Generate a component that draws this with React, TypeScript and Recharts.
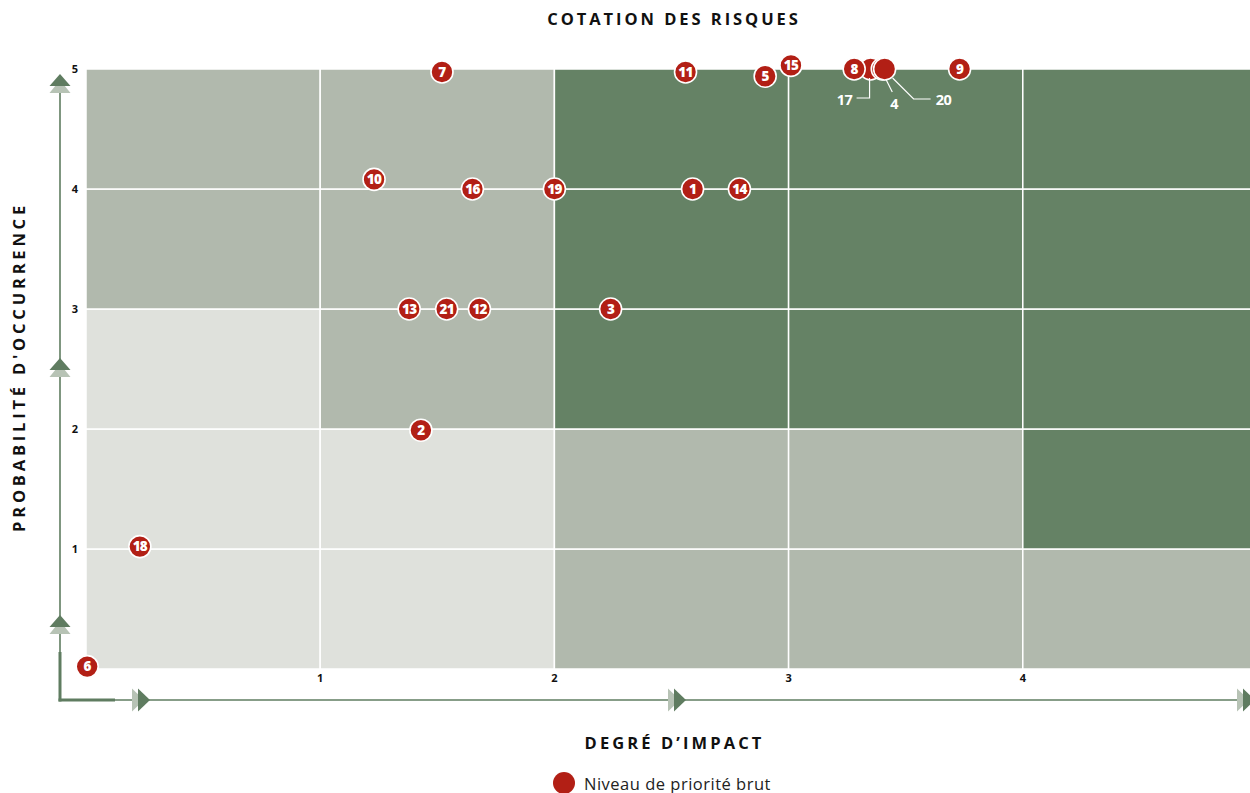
import React from 'react';
import { ScatterChart, Scatter, XAxis, YAxis, ReferenceArea } from 'recharts';

// ---------- data ----------
const impactTicks = [1, 2, 3, 4, 5];
const probabilityTicks = [1, 2, 3, 4, 5];

// zone level per cell, rows = probability band (0-1 first), columns = impact band (0-1 first)
const zoneRow0 = ['low', 'low', 'mid', 'mid', 'mid'];
const zoneRow1 = ['low', 'low', 'mid', 'mid', 'high'];
const zoneRow2 = ['low', 'mid', 'high', 'high', 'high'];
const zoneRow3 = ['mid', 'mid', 'high', 'high', 'high'];
const zoneRow4 = ['mid', 'mid', 'high', 'high', 'high'];
const zoneRows = [zoneRow0, zoneRow1, zoneRow2, zoneRow3, zoneRow4];

// risks (drawing order: 17 first so that 8 and 4/20 overlap it)
const riskIds = [17, 1, 2, 3, 4, 5, 6, 7, 8, 9, 10, 11, 12, 13, 14, 15, 16, 18, 19, 20, 21];
const riskImpact = [3.35, 2.59, 1.43, 2.24, 3.4, 2.9, 0.005, 1.52, 3.28, 3.73, 1.23, 2.56, 1.68, 1.38, 2.79, 3.01, 1.65, 0.23, 2.0, 3.41, 1.54];
const riskProbability = [5.0, 4.0, 1.99, 3.0, 5.0, 4.94, 0.02, 4.975, 5.0, 5.0, 4.08, 4.975, 3.0, 3.0, 4.0, 5.03, 4.0, 1.02, 4.0, 5.0, 3.0];
const calloutIds = [17, 4, 20];

const chartTitle = 'COTATION DES RISQUES';
const xAxisTitle = 'DEGRÉ D’IMPACT';
const yAxisTitle = "PROBABILITÉ D'OCCURRENCE";
const legendLabel = 'Niveau de priorité brut';

// ---------- styles ----------
const zoneColors: Record<string, string> = { low: '#dfe1dc', mid: '#b1b9ad', high: '#658265' };
const RED = '#b21f15';
const AXIS_GREEN = '#5f7c60';
const AXIS_LIGHT = '#b7c3b5';
const FONT = "'Open Sans', 'Noto Sans', sans-serif";

// callout geometry (relative to marker centre)
const calloutLayout: Record<number, { path: string; lx: number; ly: number }> = {
  17: { path: 'M -1 9 L -1 29 L -14 29', lx: -26, ly: 31 },
  4: { path: 'M 4 11 L 10 23', lx: 12, ly: 35 },
  20: { path: 'M 8 9 L 29 30 L 46 30', lx: 59, ly: 31 },
};

const cells = zoneRows.flatMap((row, r) =>
  row.map((zone, c) => ({ x1: c, x2: c + 1, y1: r, y2: r + 1, zone }))
);

const risks = riskIds.map((id, i) => ({
  id,
  impact: riskImpact[i],
  probability: riskProbability[i],
}));

const RiskMarker = (props: any) => {
  const { cx, cy, payload } = props;
  if (cx == null || cy == null) return null;
  const isCallout = calloutIds.includes(payload.id);
  const co = calloutLayout[payload.id];
  return (
    <g>
      <circle cx={cx} cy={cy} r={11} fill={RED} stroke="#ffffff" strokeWidth={1.6} />
      {!isCallout && (
        <text
          x={cx}
          y={cy}
          dy={4.8}
          textAnchor="middle"
          fill="#ffffff"
          fontFamily={FONT}
          fontWeight={800}
          fontSize={13.5}
          letterSpacing={-0.7}
        >
          {payload.id}
        </text>
      )}
      {isCallout && co && (
        <g>
          <path d={co.path} transform={`translate(${cx},${cy})`} fill="none" stroke="#ffffff" strokeWidth={1.2} />
          <text
            x={cx + co.lx}
            y={cy + co.ly}
            dy={5}
            textAnchor="middle"
            fill="#ffffff"
            fontFamily={FONT}
            fontWeight={700}
            fontSize={14.5}
            letterSpacing={-0.4}
          >
            {payload.id}
          </text>
        </g>
      )}
    </g>
  );
};

const XTitle = (props: any) => {
  const vb = props.viewBox || {};
  return (
    <text
      x={vb.x + vb.width / 2 + 3}
      y={vb.y + 80}
      textAnchor="middle"
      fill="#111"
      fontFamily={FONT}
      fontWeight={700}
      fontSize={16.5}
      letterSpacing={3.1}
    >
      {xAxisTitle}
    </text>
  );
};

const YTitle = () => {
  const cx = 19;
  const cy = 367;
  return (
    <text
      x={cx}
      y={cy}
      dy={5.5}
      transform={`rotate(-90, ${cx}, ${cy})`}
      textAnchor="middle"
      fill="#111"
      fontFamily={FONT}
      fontWeight={700}
      fontSize={16.5}
      letterSpacing={3.8}
    >
      {yAxisTitle}
    </text>
  );
};

const upArrow = (y: number) => (
  <g key={`u${y}`}>
    <polygon points={`60,${y + 6} 49.5,${y + 19} 70.5,${y + 19}`} fill={AXIS_LIGHT} />
    <polygon points={`60,${y} 49.5,${y + 12} 70.5,${y + 12}`} fill={AXIS_GREEN} />
  </g>
);
const rightArrow = (x: number) => (
  <g key={`r${x}`}>
    <polygon points={`${x - 6},688.5 ${x + 6},700 ${x - 6},711.5`} fill={AXIS_LIGHT} />
    <polygon points={`${x},688.5 ${x + 12},700 ${x},711.5`} fill={AXIS_GREEN} />
  </g>
);

export default function App() {
  return (
    <div
      style={{
        position: 'absolute',
        left: 0,
        top: 0,
        width: 1250,
        height: 793,
        overflow: 'hidden',
        background: '#ffffff',
      }}
    >
      <ScatterChart
        width={1300}
        height={793}
        margin={{ top: 57, right: 43, bottom: 94, left: 0 }}
      >
        {cells.map((c, i) => (
          <ReferenceArea
            key={i}
            x1={c.x1}
            x2={c.x2}
            y1={c.y1}
            y2={c.y2}
            fill={zoneColors[c.zone]}
            fillOpacity={1}
            stroke="#ffffff"
            strokeWidth={1.5}
            ifOverflow="visible"
          />
        ))}
        <XAxis
          type="number"
          dataKey="impact"
          domain={[0, 5]}
          ticks={impactTicks}
          axisLine={false}
          tickLine={false}
          tickMargin={-1}
          height={30}
          interval={0}
          tick={{ fill: '#111', fontSize: 11, fontWeight: 700, fontFamily: FONT }}
          label={<XTitle />}
        />
        <YAxis
          type="number"
          dataKey="probability"
          domain={[0, 5.1]}
          ticks={probabilityTicks}
          axisLine={false}
          tickLine={false}
          width={86}
          interval={0}
          tick={{ fill: '#111', fontSize: 11, fontWeight: 700, fontFamily: FONT }}
          label={<YTitle />}
        />
        <Scatter
          data={risks}
          isAnimationActive={false}
          shape={(p: any) => <RiskMarker {...p} />}
        />
      </ScatterChart>

      <svg
        width={1250}
        height={793}
        style={{ position: 'absolute', left: 0, top: 0, pointerEvents: 'none' }}
      >
        <text
          x={674}
          y={25}
          textAnchor="middle"
          fill="#111"
          fontFamily={FONT}
          fontWeight={700}
          fontSize={16.5}
          letterSpacing={2.95}
        >
          {chartTitle}
        </text>
        {/* axis lines */}
        <line x1={60} y1={82} x2={60} y2={700} stroke={AXIS_GREEN} strokeWidth={1.6} />
        <line x1={60} y1={700} x2={1250} y2={700} stroke={AXIS_GREEN} strokeWidth={1.6} />
        <line x1={60} y1={652} x2={60} y2={701.5} stroke={AXIS_GREEN} strokeWidth={3} />
        <line x1={58.5} y1={700} x2={115} y2={700} stroke={AXIS_GREEN} strokeWidth={3} />
        {[74, 358, 615].map(upArrow)}
        {[138, 674, 1243].map(rightArrow)}
        {/* legend */}
        <circle cx={564} cy={783} r={11} fill={RED} />
        <text x={584} y={790} fill="#222" fontFamily={FONT} fontSize={16.5} letterSpacing={0.5}>
          {legendLabel}
        </text>
      </svg>
    </div>
  );
}
